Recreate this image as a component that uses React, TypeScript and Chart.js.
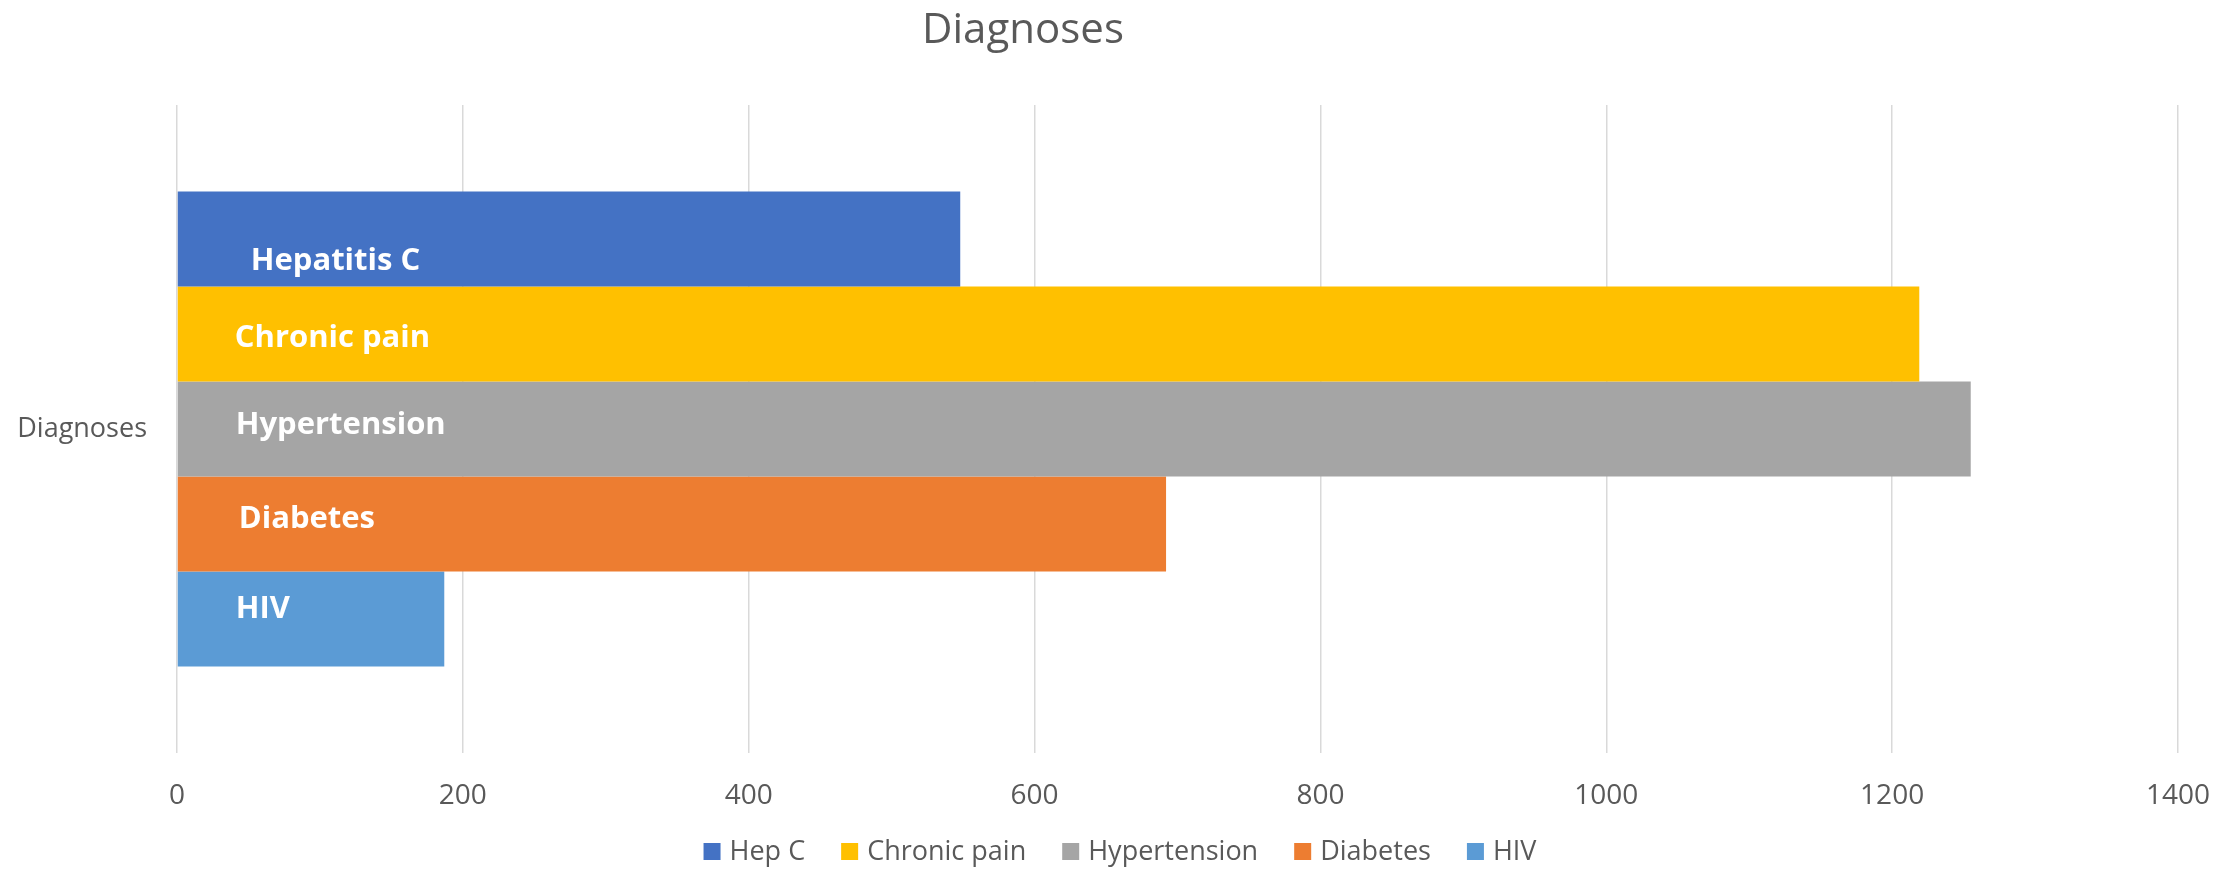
import React, { useEffect, useRef } from "react";
import { Chart, registerables } from "chart.js";

Chart.register(...registerables);

// ---- data ----
const categories = ["Diagnoses"];
const seriesNames = ["Hep C", "Chronic pain", "Hypertension", "Diabetes", "HIV"];
const barLabels = ["Hepatitis C", "Chronic pain", "Hypertension", "Diabetes", "HIV"];
const hepC = [548];
const chronicPain = [1219];
const hypertension = [1255];
const diabetes = [692];
const hiv = [187];
const seriesValues = [hepC, chronicPain, hypertension, diabetes, hiv];
const seriesColors = ["#4472C4", "#FFC000", "#A5A5A5", "#ED7D31", "#5B9BD5"];
const xTickValues = [0, 200, 400, 600, 800, 1000, 1200, 1400];
const chartTitle = "Diagnoses";

const TEXT = "#595959";
const FONT = "'Open Sans', 'Noto Sans', sans-serif";

const titlePlugin = {
  id: "xlTitle",
  afterDraw(chart: any, _args: any, opts: any) {
    const ctx = chart.ctx;
    ctx.save();
    ctx.font = `400 ${opts.size}px ${FONT}`;
    ctx.fillStyle = TEXT;
    ctx.textAlign = "center";
    ctx.textBaseline = "alphabetic";
    ctx.fillText(opts.text, chart.width * opts.xFrac, opts.baseline);
    ctx.restore();
  },
};

const legendPlugin = {
  id: "xlLegend",
  afterDraw(chart: any, _args: any, opts: any) {
    const ctx = chart.ctx;
    ctx.save();
    ctx.font = `400 ${opts.size}px ${FONT}`;
    ctx.textAlign = "left";
    ctx.textBaseline = "alphabetic";
    const items = chart.data.datasets.map((ds: any) => ({
      text: ds.label,
      color: ds.backgroundColor,
      w: ctx.measureText(ds.label).width,
    }));
    const total =
      items.reduce((s: number, it: any) => s + opts.box + opts.gap + it.w, 0) +
      opts.spacing * (items.length - 1);
    let x = chart.width / 2 + opts.centerShift - total / 2;
    const yb = opts.baseline;
    items.forEach((it: any) => {
      ctx.fillStyle = it.color;
      ctx.fillRect(x, yb - opts.box, opts.box, opts.box);
      x += opts.box + opts.gap;
      ctx.fillStyle = TEXT;
      ctx.fillText(it.text, x, yb);
      x += it.w + opts.spacing;
    });
    ctx.restore();
  },
};

const barLabelPlugin = {
  id: "barLabels",
  afterDatasetsDraw(chart: any, _args: any, opts: any) {
    const ctx = chart.ctx;
    ctx.save();
    ctx.font = `700 ${opts.size}px ${FONT}`;
    ctx.fillStyle = "#FFFFFF";
    ctx.textAlign = "left";
    ctx.textBaseline = "alphabetic";
    chart.data.datasets.forEach((_ds: any, i: number) => {
      const meta = chart.getDatasetMeta(i);
      meta.data.forEach((el: any) => {
        const dx = opts.dx[i] ?? 60;
        const dy = opts.dy[i] ?? 0;
        ctx.fillText(barLabels[i], el.base + dx, el.y + dy + opts.capHalf);
      });
    });
    ctx.restore();
  },
};

export default function App() {
  const canvasRef = useRef<HTMLCanvasElement | null>(null);

  useEffect(() => {
    document.body.style.margin = "0";
    const canvas = canvasRef.current;
    if (!canvas) return;
    const chart = new Chart(canvas, {
      type: "bar",
      data: {
        labels: categories,
        datasets: seriesNames.map((name, i) => ({
          label: name,
          data: seriesValues[i],
          backgroundColor: seriesColors[i],
          borderWidth: 0,
          categoryPercentage: 0.733,
          barPercentage: 1,
        })),
      },
      options: {
        indexAxis: "y",
        animation: false,
        responsive: true,
        maintainAspectRatio: false,
        layout: { padding: { top: 105, left: 17, right: 58, bottom: 62 } },
        scales: {
          x: {
            min: 0,
            max: 1400,
            afterBuildTicks: (scale: any) => {
              scale.ticks = xTickValues.map((v) => ({ value: v }));
            },
            afterFit: (scale: any) => {
              scale.height = 60;
            },
            grid: { color: "#D9D9D9", lineWidth: 1.5, drawTicks: false },
            border: { display: false },
            ticks: {
              padding: 26,
              color: TEXT,
              font: { family: FONT, size: 28 },
              callback: (v: any) => String(v),
            },
          },
          y: {
            grid: { display: false, drawTicks: false },
            border: { display: false },
            afterFit: (scale: any) => {
              scale.width = 160;
            },
            ticks: {
              padding: 30,
              color: TEXT,
              font: { family: FONT, size: 27 },
            },
          },
        },
        plugins: {
          title: { display: false },
          tooltip: { enabled: false },
          legend: { display: false },
          xlTitle: { text: chartTitle, size: 42, xFrac: 0.4575, baseline: 43 },
          xlLegend: { size: 27, box: 17, gap: 9, spacing: 36, baseline: 860, centerShift: 2 },
          barLabels: {
            size: 31,
            capHalf: 11,
            dx: [73, 57, 58, 61, 58],
            dy: [20, 1.5, -6.5, -6.5, -12],
          },
        } as any,
      },
      plugins: [titlePlugin, legendPlugin, barLabelPlugin],
    } as any);
    return () => chart.destroy();
  }, []);

  return (
    <div style={{ width: "2236px", height: "875px", position: "relative" }}>
      <canvas ref={canvasRef} />
    </div>
  );
}
